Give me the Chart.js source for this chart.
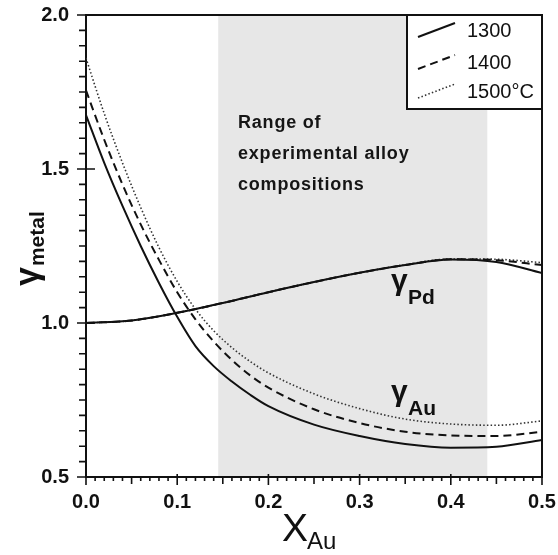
<!DOCTYPE html>
<html><head><meta charset="utf-8">
<script src="https://cdn.jsdelivr.net/npm/chart.js@4"></script>
<style>html,body{margin:0;padding:0;background:#fff}#wrap{width:558px;height:555px}</style>
</head><body><div id="wrap"><canvas id="c" width="558" height="555"></canvas></div>
<script>
// ---- data ----
const xAu = [0, 0.02, 0.04, 0.06, 0.08, 0.1, 0.12, 0.14, 0.16, 0.18, 0.2, 0.25, 0.3, 0.35, 0.4, 0.45, 0.5];
const gAu1300 = [1.675, 1.52, 1.38, 1.25, 1.13, 1.02, 0.925, 0.86, 0.81, 0.767, 0.73, 0.67, 0.633, 0.607, 0.595, 0.598, 0.62];
const gAu1400 = [1.755, 1.595, 1.45, 1.32, 1.205, 1.10, 1.012, 0.94, 0.88, 0.83, 0.79, 0.72, 0.675, 0.647, 0.635, 0.633, 0.647];
const gAu1500 = [1.86, 1.68, 1.52, 1.375, 1.245, 1.135, 1.045, 0.975, 0.92, 0.875, 0.838, 0.77, 0.722, 0.688, 0.672, 0.668, 0.682];
const xPd = [0, 0.05, 0.1, 0.15, 0.2, 0.25, 0.3, 0.35, 0.4, 0.45, 0.5];
const gPd1300 = [1.0, 1.008, 1.033, 1.065, 1.10, 1.133, 1.163, 1.188, 1.206, 1.198, 1.162];
const gPd1400 = [1.0, 1.008, 1.033, 1.065, 1.10, 1.133, 1.163, 1.188, 1.207, 1.204, 1.188];
const gPd1500 = [1.0, 1.008, 1.033, 1.065, 1.10, 1.133, 1.163, 1.189, 1.208, 1.207, 1.196];
const temps = ['1300', '1400', '1500°C'];
const xTickStep = 0.1, yTickStep = 0.5;
const shadeRange = [0.145, 0.44];
const rangeLines = ['Range of', 'experimental alloy', 'compositions'];

const FONT = '"Liberation Sans", Arial, Helvetica, sans-serif';
const styles = [
  {c:'#111', w:2, d:[]},
  {c:'#111', w:2, d:[8,5]},
  {c:'#333', w:1.6, d:[1.5,2.2]}
];
const pts = (xs, ys) => xs.map((v,i)=>({x:v, y:ys[i]}));
const auSets = [gAu1300, gAu1400, gAu1500];
const pdSets = [gPd1300, gPd1400, gPd1500];
const datasets = [];
temps.forEach((t,i)=>{
  datasets.push({label:t, data:pts(xAu, auSets[i]), borderColor:styles[i].c, borderWidth:styles[i].w, borderDash:styles[i].d, pointRadius:0, cubicInterpolationMode:'monotone', fill:false});
  datasets.push({label:t+' Pd', data:pts(xPd, pdSets[i]), borderColor:styles[i].c, borderWidth:styles[i].w, borderDash:styles[i].d, pointRadius:0, cubicInterpolationMode:'monotone', fill:false});
});

const deco = {
  id:'deco',
  beforeDatasetsDraw(chart){
    const {ctx, chartArea:a, scales:{x}} = chart;
    ctx.save();
    const x0 = x.getPixelForValue(shadeRange[0]), x1 = x.getPixelForValue(shadeRange[1]);
    ctx.fillStyle = '#e7e7e7';
    ctx.fillRect(x0, a.top+1, x1-x0, a.bottom-a.top-2);
    ctx.fillStyle = '#151515';
    ctx.font = 'bold 18px ' + FONT;
    ctx.letterSpacing = '0.8px';
    ctx.textBaseline = 'alphabetic';
    rangeLines.forEach((t,i)=>ctx.fillText(t, 238, 128 + i*31));
    ctx.restore();
  },
  afterDatasetsDraw(chart){
    const {ctx, chartArea:a, scales:{x,y}} = chart;
    ctx.save();
    ctx.strokeStyle = '#111'; ctx.lineWidth = 2;
    // frame top/right
    ctx.beginPath();
    ctx.moveTo(a.left, a.top); ctx.lineTo(a.right, a.top); ctx.lineTo(a.right, a.bottom);
    ctx.stroke();
    // tick marks
    ctx.lineWidth = 1.6;
    ctx.beginPath();
    for (let k=0; k<=50; k++){
      const px = x.getPixelForValue(k*0.01);
      let t0 = a.bottom, t1 = a.bottom+4;
      if (k%10===0){ t0 = a.bottom-3; t1 = a.bottom+8; }
      else if (k%5===0){ t1 = a.bottom+7; }
      ctx.moveTo(px, t0); ctx.lineTo(px, t1);
    }
    for (let k=0; k<=30; k++){
      const py = y.getPixelForValue(0.5 + k*0.05);
      let t0 = a.left-7, t1 = a.left;
      if (k%10===0){ t0 = a.left-9; t1 = a.left+9; }
      ctx.moveTo(t0, py); ctx.lineTo(t1, py);
    }
    ctx.stroke();
    // legend
    const L = {x:407, y:a.top, w:a.right-407, h:94};
    ctx.fillStyle = '#fff';
    ctx.fillRect(L.x, L.y, L.w, L.h);
    ctx.lineWidth = 2; ctx.strokeStyle = '#111';
    ctx.strokeRect(L.x, L.y, L.w, L.h);
    const rowsY = [30, 62, 91];
    temps.forEach((t,i)=>{
      ctx.save();
      ctx.strokeStyle = styles[i].c; ctx.lineWidth = styles[i].w; ctx.setLineDash(styles[i].d);
      ctx.beginPath(); ctx.moveTo(418, rowsY[i]+7); ctx.lineTo(455, rowsY[i]-7); ctx.stroke();
      ctx.restore();
      ctx.fillStyle = '#111';
      ctx.font = '20px ' + FONT;
      ctx.textBaseline = 'alphabetic';
      ctx.fillText(t, 467, rowsY[i]+7);
    });
    // curve labels
    ctx.fillStyle = '#111';
    ctx.font = 'bold 30px ' + FONT;
    ctx.fillText('γ', 391, 290);
    ctx.fillText('γ', 391, 401);
    ctx.font = 'bold 21px ' + FONT;
    ctx.fillText('Pd', 408, 304);
    ctx.fillText('Au', 408, 415);
    // x title
    ctx.font = '39px ' + FONT;
    ctx.fillText('X', 282, 541);
    const xw = ctx.measureText('X').width;
    ctx.font = '24px ' + FONT;
    ctx.fillText('Au', 282 + xw - 1, 549);
    // y title
    ctx.translate(38, 286);
    ctx.rotate(-Math.PI/2);
    ctx.font = 'bold 34px ' + FONT;
    ctx.fillText('γ', 0, 0);
    const gw = ctx.measureText('γ').width;
    ctx.font = 'bold 21px ' + FONT;
    ctx.fillText('metal', gw + 1, 6);
    ctx.restore();
  }
};

const hiddenTicks = (len) => ({display:true, drawOnChartArea:false, drawTicks:true, tickLength:len, tickColor:'rgba(0,0,0,0)'});

new Chart(document.getElementById('c'), {
  type:'line',
  data:{datasets},
  options:{
    responsive:false, animation:false, devicePixelRatio:1,
    layout:{padding:{left:0, top:15, right:16, bottom:0}},
    plugins:{legend:{display:false}, tooltip:{enabled:false}},
    scales:{
      x:{type:'linear', min:0, max:0.5,
         ticks:{stepSize:xTickStep, callback:v=>Number(v).toFixed(1), font:{family:FONT, size:20, weight:'bold'}, color:'#111', padding:0, maxRotation:0},
         grid:hiddenTicks(13), border:{color:'#111', width:2},
         afterFit(s){ s.height = 78; }},
      y:{type:'linear', min:0.5, max:2.0,
         ticks:{stepSize:yTickStep, callback:v=>Number(v).toFixed(1), font:{family:FONT, size:20, weight:'bold'}, color:'#111', padding:0},
         grid:hiddenTicks(17), border:{color:'#111', width:2},
         afterFit(s){ s.width = 86; }}
    }
  },
  plugins:[deco]
});
</script>
</body></html>
